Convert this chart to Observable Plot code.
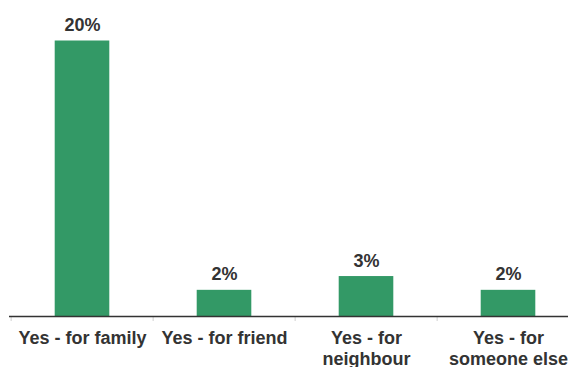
<!DOCTYPE html>
<html><head><meta charset="utf-8">
<script src="https://cdn.jsdelivr.net/npm/d3@7"></script>
<script src="https://cdn.jsdelivr.net/npm/@observablehq/plot@0.6"></script>
<style>
body{margin:0;background:#fff;}
#chart{width:568px;height:367px;overflow:hidden;}
</style>
</head><body><div id="chart"></div>
<script>
const categories = ["Yes - for family", "Yes - for friend", "Yes - for neighbour", "Yes - for someone else"];
const tickLabels = ["Yes - for family", "Yes - for friend", "Yes - for\nneighbour", "Yes - for\nsomeone else"];
const values = [20, 1.9, 2.9, 1.9];
const valueLabels = ["20%", "2%", "3%", "2%"];

const data = categories.map((c, i) => ({category: c, value: values[i], label: valueLabels[i]}));
const xRange = [9, 580];
const step = (xRange[1] - xRange[0]) / categories.length;
const font = "'Liberation Sans', Arial, sans-serif";
const textColor = "#333333";

const plot = Plot.plot({
  width: 568, height: 367,
  marginLeft: 9, marginRight: 0, marginTop: 40.5, marginBottom: 51,
  style: {fontFamily: font, background: "white", overflow: "hidden"},
  x: {domain: categories, range: xRange, padding: 0, axis: null, label: null},
  y: {domain: [0, 20], axis: null, label: null},
  marks: [
    Plot.barY(data, {x: "category", y: "value", fill: "#339966", insetLeft: 43.7, insetRight: 43.7}),
    Plot.axisX({tickSize: 5, stroke: "#d0d0d0", tickFormat: () => "", label: null, dx: -step / 2}),
    Plot.axisX({tickSize: 0, tickPadding: 13, label: null, tickFormat: d => tickLabels[categories.indexOf(d)],
      fontSize: 18, fontWeight: "bold", fill: textColor, lineHeight: 1.15}),
    Plot.ruleY([0], {stroke: "#333333", strokeWidth: 1.5}),
    Plot.text(data, {x: "category", y: "value", text: "label", lineAnchor: "bottom", dy: -10,
      fontSize: 18, fontWeight: "bold", fill: textColor})
  ]
});
document.getElementById("chart").appendChild(plot);
</script>
</body></html>
